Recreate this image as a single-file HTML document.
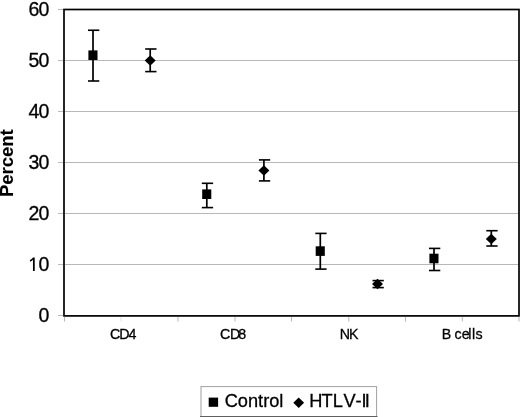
<!DOCTYPE html>
<html><head><meta charset="utf-8"><style>
html,body{margin:0;padding:0;background:#fff;width:520px;height:417px;overflow:hidden;}
svg{display:block;font-family:"Liberation Sans",sans-serif;will-change:transform;}
text{font-family:"Liberation Sans",sans-serif;fill:#000;stroke:#000;stroke-width:0.3px;}
</style></head><body>
<svg width="520" height="417" viewBox="0 0 520 417">
<rect x="65" y="60" width="453" height="1" fill="#b8b8b8"/>
<rect x="65" y="111" width="453" height="1" fill="#b8b8b8"/>
<rect x="65" y="162" width="453" height="1" fill="#b8b8b8"/>
<rect x="65" y="213" width="453" height="1" fill="#b8b8b8"/>
<rect x="65" y="264" width="453" height="1" fill="#b8b8b8"/>
<rect x="58" y="9" width="5" height="1" fill="#b8b8b8"/>
<rect x="58" y="60" width="5" height="1" fill="#b8b8b8"/>
<rect x="58" y="111" width="5" height="1" fill="#b8b8b8"/>
<rect x="58" y="162" width="5" height="1" fill="#b8b8b8"/>
<rect x="58" y="213" width="5" height="1" fill="#b8b8b8"/>
<rect x="58" y="264" width="5" height="1" fill="#b8b8b8"/>
<rect x="58" y="315" width="5" height="1" fill="#b8b8b8"/>
<rect x="64.00" y="317" width="1" height="4.5" fill="#b8b8b8"/>
<rect x="120.50" y="317" width="1" height="4.5" fill="#e4e4e4"/>
<rect x="177.50" y="317" width="1" height="4.5" fill="#b8b8b8"/>
<rect x="234.50" y="317" width="1" height="4.5" fill="#b8b8b8"/>
<rect x="291.00" y="317" width="1" height="4.5" fill="#b8b8b8"/>
<rect x="348.30" y="317" width="1" height="4.5" fill="#b8b8b8"/>
<rect x="405.00" y="317" width="1" height="4.5" fill="#b8b8b8"/>
<rect x="461.80" y="317" width="1" height="4.5" fill="#b8b8b8"/>
<rect x="518.50" y="317" width="1" height="4.5" fill="#b8b8b8"/>
<rect x="64" y="9.5" width="455" height="306.4" fill="none" stroke="#000" stroke-width="1.7"/>
<text x="28.57" y="15.6" font-size="19.5">6</text><text x="38.62" y="15.6" font-size="19.5">0</text>
<text x="28.57" y="66.7" font-size="19.5">5</text><text x="38.62" y="66.7" font-size="19.5">0</text>
<text x="28.57" y="117.7" font-size="19.5">4</text><text x="38.62" y="117.7" font-size="19.5">0</text>
<text x="28.57" y="168.8" font-size="19.5">3</text><text x="38.62" y="168.8" font-size="19.5">0</text>
<text x="28.57" y="219.9" font-size="19.5">2</text><text x="38.62" y="219.9" font-size="19.5">0</text>
<path d="M32.97 257.58 L34.72 257.58 L34.72 271.00 L32.97 271.00 L32.97 259.78 C32.12 260.68 31.02 261.28 29.92 261.78 L29.92 260.18 C31.12 259.58 32.32 258.58 32.97 257.58 Z" fill="#000"/><text x="38.62" y="271.0" font-size="19.5">0</text>
<text x="38.62" y="322.0" font-size="19.5">0</text>
<text transform="scale(0.95,1)" x="115.76 125.61 135.23" y="339" font-size="15">CD4</text>
<text transform="scale(0.95,1)" x="231.55 242.03 250.72" y="339" font-size="15">CD8</text>
<text transform="scale(0.95,1)" x="357.61 367.30" y="339" font-size="15">NK</text>
<text transform="scale(0.95,1)" x="465.09 475.26 478.42 486.10 492.99 496.78 500.43" y="339" font-size="15">B cells</text>
<text transform="translate(13.1,197.1) rotate(-90)" font-weight="bold" font-size="18.5" style="stroke-width:0.1px">Percent</text>
<rect x="92.15" y="30.25" width="1.7" height="50.75" fill="#000"/><rect x="88.0" y="29.45" width="11.3" height="1.6" fill="#000"/><rect x="88.0" y="80.20" width="11.3" height="1.6" fill="#000"/>
<rect x="88.40" y="50.40" width="9.1" height="9.6" fill="#000"/>
<rect x="205.95" y="183.3" width="1.7" height="24.30" fill="#000"/><rect x="201.8" y="182.50" width="11.3" height="1.6" fill="#000"/><rect x="201.8" y="206.80" width="11.3" height="1.6" fill="#000"/>
<rect x="202.20" y="189.40" width="9.1" height="9.6" fill="#000"/>
<rect x="319.45" y="233.4" width="1.7" height="35.70" fill="#000"/><rect x="315.3" y="232.60" width="11.3" height="1.6" fill="#000"/><rect x="315.3" y="268.30" width="11.3" height="1.6" fill="#000"/>
<rect x="315.70" y="246.30" width="9.1" height="9.6" fill="#000"/>
<rect x="433.15" y="248.4" width="1.7" height="22.10" fill="#000"/><rect x="429.0" y="247.60" width="11.3" height="1.6" fill="#000"/><rect x="429.0" y="269.70" width="11.3" height="1.6" fill="#000"/>
<rect x="429.40" y="253.70" width="9.1" height="9.6" fill="#000"/>
<rect x="149.35" y="49.0" width="1.7" height="22.60" fill="#000"/><rect x="145.2" y="48.20" width="11.3" height="1.6" fill="#000"/><rect x="145.2" y="70.80" width="11.3" height="1.6" fill="#000"/>
<path d="M150.2 55.3 L155.7 60.5 L150.2 65.7 L144.7 60.5 Z" fill="#000"/>
<rect x="263.05" y="159.9" width="1.7" height="21.00" fill="#000"/><rect x="258.9" y="159.10" width="11.3" height="1.6" fill="#000"/><rect x="258.9" y="180.10" width="11.3" height="1.6" fill="#000"/>
<path d="M263.9 165.3 L269.4 170.5 L263.9 175.7 L258.4 170.5 Z" fill="#000"/>
<rect x="376.65" y="280.6" width="1.7" height="7.00" fill="#000"/><rect x="372.5" y="279.80" width="11.3" height="1.6" fill="#000"/><rect x="372.5" y="286.80" width="11.3" height="1.6" fill="#000"/>
<path d="M377.5 278.8 L383.0 284.0 L377.5 289.2 L372.0 284.0 Z" fill="#000"/>
<rect x="490.45" y="230.7" width="1.7" height="15.30" fill="#000"/><rect x="486.3" y="229.90" width="11.3" height="1.6" fill="#000"/><rect x="486.3" y="245.20" width="11.3" height="1.6" fill="#000"/>
<path d="M491.3 233.8 L496.8 239.0 L491.3 244.2 L485.8 239.0 Z" fill="#000"/>
<rect x="201" y="386.6" width="175.6" height="30" fill="#fff" stroke="#a0a0a0" stroke-width="1"/>
<rect x="200" y="416" width="177.5" height="1" fill="#606060"/>
<rect x="208.7" y="397.6" width="9.4" height="9.2" fill="#000"/>
<text transform="scale(0.96,1)" x="234.03" y="407" font-size="19">Control</text>
<path d="M298.7 397.4 L304.1 402.7 L298.7 408 L293.3 402.7 Z" fill="#000"/>
<text transform="scale(0.96,1)" x="322.19 334.99 346.67 357.73 370.20 376.48 380.02" y="407" font-size="19">HTLV-II</text>
</svg>
</body></html>
